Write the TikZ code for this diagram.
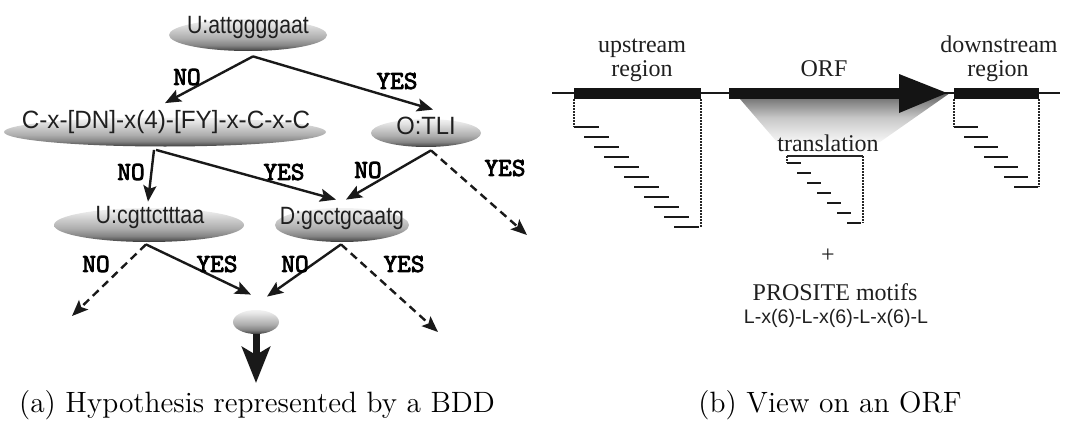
\documentclass[tikz,border=0pt]{standalone}
\usepackage{fontspec}
\newfontfamily\helvfont{Liberation Sans}
\newfontfamily\serifwork{Liberation Serif}
\newfontfamily\branchfont{lmmono10-regular.otf}[FakeBold=3.2]
\usetikzlibrary{arrows.meta,calc,shapes.geometric}

% one unit of the picture grid
\newdimen\pxu \pxu=0.5pt

% grey body of the decision nodes: light on top, dark at the bottom
\pgfdeclareverticalshading{bddshade}{100bp}{%
  color(0bp)=(black!82); color(25bp)=(black!82); color(28bp)=(black!66);
  color(34bp)=(black!48); color(45bp)=(black!32); color(58bp)=(black!20);
  color(68bp)=(black!10); color(75bp)=(black!5); color(100bp)=(black!5)}
% translation funnel below the ORF
\pgfdeclareverticalshading{transshade}{100bp}{%
  color(0bp)=(black!3); color(25bp)=(black!3); color(50bp)=(black!22);
  color(75bp)=(black!62); color(100bp)=(black!62)}

\tikzset{
  bddnode/.style={ellipse, shading=bddshade, inner sep=0pt},
  nodetext/.style={font=\helvfont\fontsize{12.5}{14}\selectfont, text=black!88, inner sep=0pt, anchor=base},
  branch/.style={font=\branchfont\fontsize{13}{14}\selectfont, inner sep=0pt},
  edge/.style={line width=1.2pt, black!90, -{Stealth[length=8pt,width=6.5pt,inset=1.6pt]}},
  dashededge/.style={edge, dash pattern=on 4pt off 2.6pt},
  caption/.style={font=\fontsize{14.7}{17}\selectfont, inner sep=0pt, anchor=base},
  seqtext/.style={font=\serifwork\fontsize{12}{12}\selectfont, text=black!88, inner sep=0pt, anchor=base},
  dotline/.style={line width=0.75pt, dash pattern=on 0.75pt off 0.75pt, black!85},
  hitline/.style={line width=1pt, black!90},
}

\begin{document}
\begin{tikzpicture}[x=0.5pt, y=-0.5pt]
\useasboundingbox (0,0) rectangle (1066,428);

% ---------------- (a) the BDD ----------------
\node[bddnode, minimum width=158\pxu, minimum height=32\pxu] (top) at (248,35) {};
\node[nodetext] (toptxt) at ($(top.center)+(0,-2)$) {\scalebox{0.85}[1]{U:attggggaat}};

\node[bddnode, minimum width=322\pxu, minimum height=29\pxu] (pat) at (165,132) {};
\node[nodetext] (pattxt) at ($(pat.center)+(1,-4)$) {\scalebox{0.97}[1]{C-x-[DN]-x(4)-[FY]-x-C-x-C}};

\node[bddnode, minimum width=110\pxu, minimum height=28\pxu] (tli) at (426,133) {};
\node[nodetext] (tlitxt) at ($(tli.center)+(0,1)$) {\scalebox{0.95}[1]{O:TLI}};

\node[bddnode, minimum width=190\pxu, minimum height=34\pxu] (ucg) at (149,225) {};
\node[nodetext] (ucgtxt) at ($(ucg.center)+(1,-2)$) {\scalebox{0.86}[1]{U:cgttctttaa}};

\node[bddnode, minimum width=134\pxu, minimum height=34\pxu] (dgc) at (342,225) {};
\node[nodetext] (dgctxt) at ($(dgc.center)+(0,-1)$) {\scalebox{0.85}[1]{D:gcctgcaatg}};

\node[bddnode, minimum width=46\pxu, minimum height=24\pxu] (term) at (256,322) {};

% loose ends of the branches
\coordinate (tliyes) at (527,235);
\coordinate (ucgno) at (72,316);
\coordinate (dgcyes) at (438,332);
\coordinate (result) at (256,383);

% branches
\draw[edge] ($(top.south)+(5,5)$) -- ($(pat.north)+(0,-14)$);
\draw[edge] ($(top.south)+(5,5)$) -- ($(tli.north)+(7,-9)$);
\draw[edge] ($(pat.south)+(-11,3)$) -- ($(ucg.north)+(-1,-6)$);
\draw[edge] ($(pat.south)+(-9,3)$) -- ($(dgc.north)+(-6,-8)$);
\draw[edge] ($(tli.south)+(5,3)$) -- ($(dgc.north)+(4,-8)$);
\draw[dashededge] ($(tli.south)+(5,3)$) -- (tliyes);
\draw[dashededge] ($(ucg.south)+(-3,2)$) -- (ucgno);
\draw[edge] ($(ucg.south)+(-3,2)$) -- ($(term.north)+(-5,-15)$);
\draw[edge] ($(dgc.south)+(-1,2)$) -- ($(term.north)+(11,-13)$);
\draw[dashededge] ($(dgc.south)+(-1,2)$) -- (dgcyes);
\draw[line width=3.5pt, black!90, -{Stealth[length=18pt,width=14pt,inset=4pt]}] (term.south) -- (result);

% branch labels
\node[branch] (l1) at (187,77) {NO};
\node[branch] (l2) at (397,81) {YES};
\node[branch] (l3) at (131,172) {NO};
\node[branch] (l4) at (284,172) {YES};
\node[branch] (l5) at (368,170) {NO};
\node[branch] (l6) at (505,168) {YES};
\node[branch] (l7) at (96,264) {NO};
\node[branch] (l8) at (217,264) {YES};
\node[branch] (l9) at (295,264) {NO};
\node[branch] (l10) at (404,264) {YES};

\node[caption] (capa) at (257,412) {(a) Hypothesis represented by a BDD};

% ---------------- (b) the ORF view ----------------
% translation funnel (drawn first, the ORF arrow covers its top)
\shade[shading=transshade] (740,99) -- (950,93) -- (880,142) -- (777,142) -- cycle;

% DNA strand with the three regions
\draw[line width=0.8pt, black!90] (552,93) -- (1060,93);
\fill[black!92] (574,88) rectangle (701,99);
\fill[black!92] (729,88) rectangle (899,99);
\fill[black!92] (899,74) -- (947,93) -- (899,113) -- cycle;
\fill[black!92] (954,88) rectangle (1039,99);

% upstream windows
\draw[dotline] (574,99) -- (574,127);
\draw[dotline] (701,99) -- (701,227);
\foreach \i in {0,...,10}
  \draw[hitline] (574+10*\i,127+10*\i) -- (599+10*\i,127+10*\i);

% translated windows
\draw[line width=0.6pt, black!85] (787,156) -- (863,156);
\draw[dotline] (787,156) -- (787,163);
\draw[dotline] (863,156) -- (863,223);
\foreach \i in {0,...,6}
  \draw[hitline] (787+10*\i,163+10*\i) -- (801+10*\i,163+10*\i);

% downstream windows
\draw[dotline] (954,99) -- (954,127);
\draw[dotline] (1039,99) -- (1039,187);
\foreach \i in {0,...,6}
  \draw[hitline] (954+10*\i,127+10*\i) -- (978+10*\i,127+10*\i);

% region names
\node[seqtext] (up1) at (642,52) {upstream};
\node[seqtext] (up2) at (642,76) {region};
\node[seqtext] (orf) at (824,76) {ORF};
\node[seqtext] (down1) at (999,52) {downstream};
\node[seqtext] (down2) at (998,76) {region};
\node[seqtext] (trans) at (828,151) {translation};
\node[font=\serifwork\fontsize{12}{12}\selectfont, text=black!88, inner sep=0pt] (plus) at (828,256) {+};
\node[seqtext] (pros) at (835,300) {PROSITE motifs};
\node[font=\helvfont\fontsize{9.8}{11}\selectfont, text=black!88, inner sep=0pt, anchor=base] (motif) at (836,323) {L-x(6)-L-x(6)-L-x(6)-L};

\node[caption] (capb) at (830,412) {(b) View on an ORF};
\end{tikzpicture}
\end{document}
